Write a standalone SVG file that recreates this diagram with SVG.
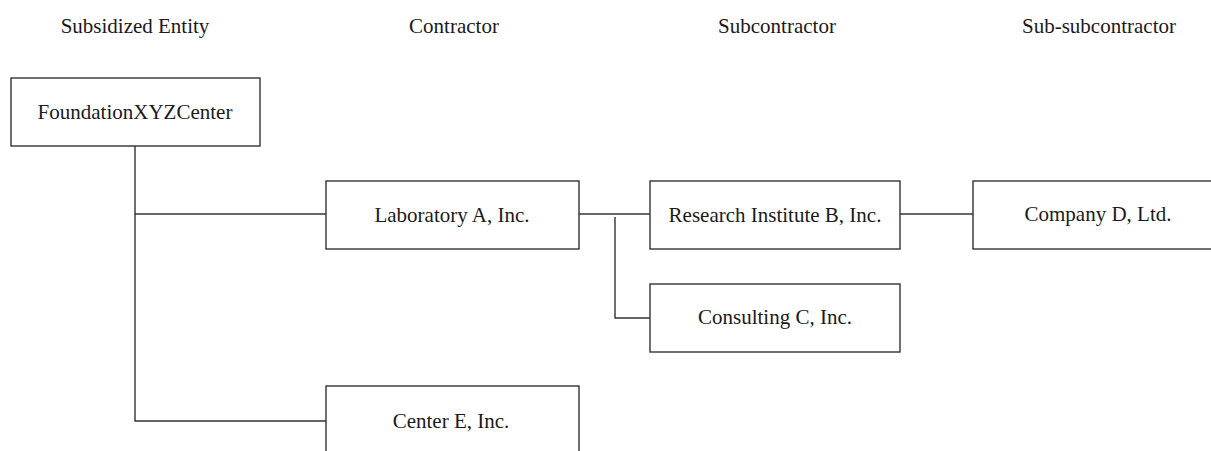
<svg xmlns="http://www.w3.org/2000/svg" width="1211" height="451" viewBox="0 0 1211 451">
<style>
.box{fill:#fff;stroke:#333;stroke-width:1.4}
.ln{fill:none;stroke:#333;stroke-width:1.4}
text{font-family:"Liberation Serif","Times New Roman",serif;font-size:21px;fill:#1a1a1a;text-anchor:middle}
</style>
<rect width="1211" height="451" fill="#fff"/>
<g id="headers">
<text x="135" y="33">Subsidized Entity</text>
<text x="454" y="33">Contractor</text>
<text x="777" y="33">Subcontractor</text>
<text x="1099" y="33">Sub-subcontractor</text>
</g>
<g id="connectors">
<path class="ln" d="M135 146V421H326"/>
<path class="ln" d="M135 214H326"/>
<path class="ln" d="M579 214H650"/>
<path class="ln" d="M615 217V318H650"/>
<path class="ln" d="M900 214H973"/>
</g>
<g id="foundation">
<rect class="box" x="11" y="78" width="249" height="68"/>
<text x="135" y="119">FoundationXYZCenter</text>
</g>
<g id="laboratory-a">
<rect class="box" x="326" y="181" width="253" height="68"/>
<text x="452" y="222">Laboratory A, Inc.</text>
</g>
<g id="research-b">
<rect class="box" x="650" y="181" width="250" height="68"/>
<text x="775" y="222">Research Institute B, Inc.</text>
</g>
<g id="company-d">
<rect class="box" x="973" y="181" width="260" height="68"/>
<text x="1098" y="221">Company D, Ltd.</text>
</g>
<g id="consulting-c">
<rect class="box" x="650" y="284" width="250" height="68"/>
<text x="775" y="324">Consulting C, Inc.</text>
</g>
<g id="center-e">
<rect class="box" x="326" y="386" width="253" height="68"/>
<text x="451" y="428">Center E, Inc.</text>
</g>
</svg>
